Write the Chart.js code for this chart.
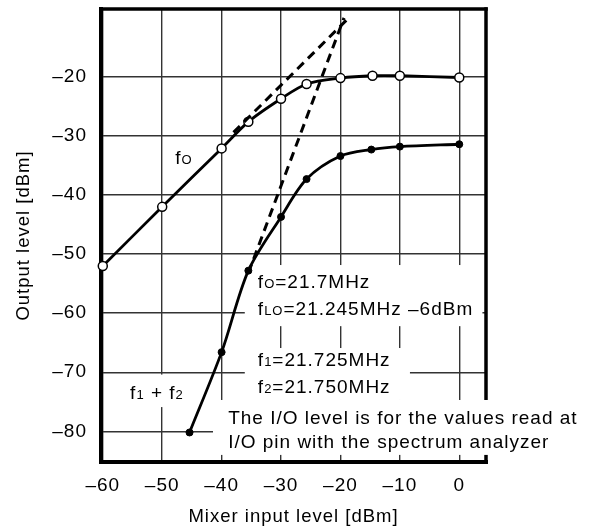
<!DOCTYPE html>
<html>
<head>
<meta charset="utf-8">
<script src="https://cdn.jsdelivr.net/npm/chart.js@4.4.0/dist/chart.umd.min.js"></script>
<style>
  html, body { margin: 0; padding: 0; background: #fff; }
</style>
</head>
<body>
<canvas id="chart" width="592" height="531"></canvas>
<script>
// Mixer output level vs input level (desired signal fO and f1 + f2 product)
const foInput = [-60, -50, -40, -35.5, -30, -25.7, -20, -14.6, -10, 0];
const foOutput = [-52, -42, -32.1, -27.6, -23.7, -21.2, -20.2, -19.8, -19.8, -20.1];

const imInput = [-45.4, -40, -35.5, -30, -25.7, -20, -14.8, -10, 0];
const imOutput = [-80.2, -66.6, -52.8, -43.7, -37.3, -33.4, -32.3, -31.8, -31.4];

// dashed extrapolations
const foLineInput = [-38, -18.5];
const foLineOutput = [-29.4, -9.9];
const imLineInput = [-35.5, -19.4];
const imLineOutput = [-53.2, -10];

const xTicks = [-60, -50, -40, -30, -20, -10, 0];
const yTicks = [-80, -70, -60, -50, -40, -30, -20];

const FONT = "'Liberation Sans', Arial, Helvetica, sans-serif";

function toPoints(xs, ys) {
  return xs.map((x, i) => ({ x: x, y: ys[i] }));
}

function dashLabel(v) {
  return v < 0 ? "\u2013" + Math.abs(v) : String(v);
}

// draws text made of pieces with different sizes on one baseline
function richText(ctx, x, y, parts) {
  let cx = x;
  parts.forEach(([t, size]) => {
    ctx.font = size + "px " + FONT;
    ctx.fillText(t, cx, y);
    cx += ctx.measureText(t).width;
  });
}

const notes = {
  id: "notes",
  beforeDraw(chart) {
    chart.ctx.letterSpacing = "1px";
  },
  beforeDatasetsDraw(chart) {
    const { ctx, chartArea: a, scales: { x, y } } = chart;
    ctx.save();

    // frame
    ctx.strokeStyle = "#000";
    ctx.lineCap = "square";
    const side = (x0, y0, x1, y1, w) => {
      ctx.lineWidth = w;
      ctx.beginPath();
      ctx.moveTo(x0, y0);
      ctx.lineTo(x1, y1);
      ctx.stroke();
    };
    side(a.left, a.top, a.right, a.top, 3.5);
    side(a.right, a.top, a.right, a.bottom, 3.5);
    side(a.left, a.top, a.left, a.bottom, 4);
    side(a.left, a.bottom, a.right, a.bottom, 4);

    // white patches behind the notes
    const boxes = [
      [-55.75, -45.3, -70.4, -75.9],
      [-36.1, 3.9, -51.85, -62.2],
      [-36.1, -8.3, -65.9, -74.7],
      [-41.45, 21.3, -74.7, -84.0],
    ];
    ctx.fillStyle = "#fff";
    boxes.forEach(([x0, x1, y0, y1]) => {
      const px0 = x.getPixelForValue(x0), px1 = x.getPixelForValue(x1);
      const py0 = y.getPixelForValue(y0), py1 = y.getPixelForValue(y1);
      ctx.fillRect(px0, py0, px1 - px0, py1 - py0);
    });

    // notes
    ctx.fillStyle = "#000";
    ctx.textBaseline = "alphabetic";
    ctx.textAlign = "left";
    const big = 19, small = 13;
    const at = (vx, vy, parts) =>
      richText(ctx, x.getPixelForValue(vx), y.getPixelForValue(vy), parts);

    at(-47.8, -34.74, [["f", big], ["O", small]]);
    at(-55.4, -74.53, [["f", big], ["1", small], [" + f", big], ["2", small]]);
    at(-33.9, -55.74, [["f", big], ["O", small], ["=21.7MHz", big]]);
    at(-33.9, -60.3, [["f", big], ["LO", small], ["=21.245MHz \u20136dBm", big]]);
    at(-33.9, -68.95, [["f", big], ["1", small], ["=21.725MHz", big]]);
    at(-33.9, -73.52, [["f", big], ["2", small], ["=21.750MHz", big]]);
    at(-38.9, -78.77, [["The I/O level is for the values read at", big]]);
    at(-38.9, -82.83, [["I/O pin with the spectrum analyzer", big]]);

    ctx.restore();
  },
};

const ctx = document.getElementById("chart").getContext("2d");
new Chart(ctx, {
  type: "scatter",
  data: {
    datasets: [
      {
        label: "fO asymptote",
        data: toPoints(foLineInput, foLineOutput),
        showLine: true,
        borderColor: "#000",
        borderWidth: 3,
        borderDash: [9, 6],
        pointRadius: 0,
      },
      {
        label: "f1 + f2 asymptote",
        data: toPoints(imLineInput, imLineOutput),
        showLine: true,
        borderColor: "#000",
        borderWidth: 3,
        borderDash: [9, 6],
        pointRadius: 0,
      },
      {
        label: "f1 + f2",
        data: toPoints(imInput, imOutput),
        showLine: true,
        tension: 0.3,
        borderColor: "#000",
        borderWidth: 2.8,
        pointRadius: 3.5,
        pointBackgroundColor: "#000",
        pointBorderColor: "#000",
        pointBorderWidth: 1,
      },
      {
        label: "fO",
        data: toPoints(foInput, foOutput),
        showLine: true,
        tension: 0.3,
        borderColor: "#000",
        borderWidth: 2.8,
        pointRadius: 4.5,
        pointBackgroundColor: "#fff",
        pointBorderColor: "#000",
        pointBorderWidth: 1.5,
        clip: false,
      },
    ],
  },
  options: {
    responsive: false,
    animation: false,
    layout: { padding: { top: 9, right: 106, left: 0, bottom: 0 } },
    scales: {
      x: {
        type: "linear",
        min: -60.3,
        max: 4.5,
        afterFit(s) {
          s.height = 69;
          s.paddingLeft = 0;
          s.paddingRight = 0;
        },
        afterBuildTicks(s) { s.ticks = xTicks.map((v) => ({ value: v })); },
        border: { display: false },
        grid: { color: "#333", lineWidth: 1.4, drawTicks: false },
        ticks: {
          color: "#000",
          padding: 12,
          maxRotation: 0,
          font: { family: FONT, size: 19 },
          callback: dashLabel,
        },
        title: {
          display: true,
          text: "Mixer input level [dBm]",
          color: "#000",
          font: { family: FONT, size: 18.5 },
          padding: { top: 0, bottom: 3.4 },
        },
      },
      y: {
        type: "linear",
        min: -85.2,
        max: -8.5,
        afterFit(s) {
          s.width = 101;
          s.paddingTop = 0;
          s.paddingBottom = 0;
        },
        afterBuildTicks(s) { s.ticks = yTicks.map((v) => ({ value: v })); },
        border: { display: false },
        grid: { color: "#333", lineWidth: 1.4, drawTicks: false },
        ticks: {
          color: "#000",
          padding: 14,
          font: { family: FONT, size: 19 },
          callback: dashLabel,
        },
        title: {
          display: true,
          text: "Output level [dBm]",
          color: "#000",
          font: { family: FONT, size: 18.5 },
          padding: { top: 12.4, bottom: 0 },
        },
      },
    },
    plugins: {
      legend: { display: false },
      tooltip: { enabled: false },
    },
  },
  plugins: [notes],
});
</script>
</body>
</html>
